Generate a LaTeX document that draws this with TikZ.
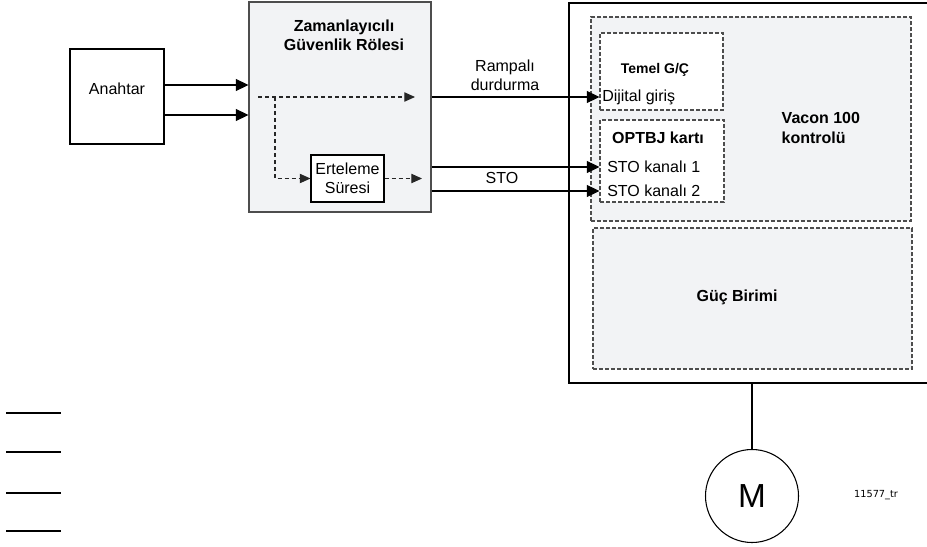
\documentclass[tikz,border=0pt]{standalone}
\usepackage{fontspec}
\setmainfont{Liberation Sans}
\newfontfamily\tagfont{DejaVu Sans}
\usetikzlibrary{arrows.meta}
\definecolor{panelgray}{HTML}{F2F3F5}
\definecolor{framegray}{HTML}{4D4D4D}

\tikzset{
  blockbox/.style={rectangle, draw, line width=0.8pt, inner sep=0pt, align=center},
  dashbox/.style={rectangle, draw=framegray, line width=0.8pt,
                  dash pattern=on 3pt off 1.5pt, inner sep=0pt},
  sig/.style={-{Triangle[length=9.5pt,width=9pt]}, line width=0.8pt},
  dsig/.style={-{Triangle[length=8pt,width=7pt]}, line width=0.8pt,
               draw=black!85, dash pattern=on 3pt off 2.25pt},
  boldlbl/.style={font=\fontsize{12}{14.5}\selectfont\bfseries, align=center}
}

\begin{document}
\begin{tikzpicture}[x=0.75pt, y=-0.75pt, font=\fontsize{12}{14.5}\selectfont]
\useasboundingbox (0,0) rectangle (927,546);

% switch and relay
\node[blockbox, minimum width=70.5pt, minimum height=71.25pt]
  (anahtar) at (117,96.5) {};
\node (anahtarlbl) at (117,89) {Anahtar};

\node[blockbox, draw=framegray, fill=panelgray, minimum width=136.5pt, minimum height=157.5pt]
  (role) at (340,107) {};
\node[boldlbl] (rolelbl) at (344,35.5) {Zamanlayıcılı\\Güvenlik Rölesi};

\node[blockbox, fill=white, minimum width=54.75pt, minimum height=35.25pt]
  (erteleme) at (347.5,178.5) {Erteleme\\Süresi};

\coordinate (din) at (258,97);
\coordinate (dsplit) at (275,97);
\coordinate (dout) at (415,97);
\coordinate (eout) at (422,178.5);

% drive
\draw[line width=0.8pt] (927,3) -| (569,383) -- (927,383);
\coordinate (vaconbot) at (752,383);

\node[dashbox, fill=panelgray, minimum width=240pt, minimum height=153pt]
  (kontrol) at (751,119) {};
\node[boldlbl, align=left, anchor=west] (kontrollbl) at (777,128) {Vacon 100\\kontrolü};

\node[dashbox, fill=white, minimum width=92.25pt, minimum height=57.75pt]
  (temel) at (661.5,71.5) {};
\node[font=\fontsize{10.5}{12}\selectfont\bfseries] (temellbl) at (655,70) {Temel G/Ç};
\node[anchor=west, inner sep=0pt] (dijital) at (602,97) {Dijital giriş};

\node[dashbox, fill=white, minimum width=93pt, minimum height=61.5pt]
  (optbj) at (662,161) {};
\node[boldlbl] (optbjlbl) at (658,138) {OPTBJ kartı};
\node[anchor=west, inner sep=0pt] (sto1) at (607,167) {STO kanalı 1};
\node[anchor=west, inner sep=0pt] (sto2) at (607,191) {STO kanalı 2};

\node[dashbox, fill=panelgray, minimum width=239.25pt, minimum height=105.75pt]
  (guc) at (752.5,298.5) {};
\node[boldlbl] (guclbl) at (737,297) {Güç Birimi};

\node[circle, draw, line width=0.8pt, minimum size=69.75pt, inner sep=0pt,
      font=\fontsize{25}{25}\selectfont] (motor) at (752,496) {M};
\node[font=\tagfont\fontsize{7.3}{8}\selectfont] (tag) at (876,495) {11577\_tr};

% signals
\draw[sig] (anahtar.east |- 0,85) -- (role.west |- 0,85);
\draw[sig] (anahtar.east |- 0,115) -- (role.west |- 0,115);

\draw[dsig] (din) -- (dout);
\draw[dsig] (dsplit) |- (erteleme.west);
\draw[dsig] (erteleme.east) -- (eout);

\draw[sig] (role.east |- 0,97) -- (temel.west |- 0,97);
\node[align=center] (rampa) at (505,75) {Rampalı\\durdurma};

\draw[sig] (role.east |- 0,167) -- (optbj.west |- 0,167);
\draw[sig] (role.east |- 0,191) -- (optbj.west |- 0,191);
\node (stolbl) at (502,178) {STO};

\draw[line width=0.8pt] (vaconbot) -- (motor.north);

\foreach \y in {413,452,493,531}
  \draw[line width=1.5pt] (6,\y) -- (61,\y);
\end{tikzpicture}
\end{document}
